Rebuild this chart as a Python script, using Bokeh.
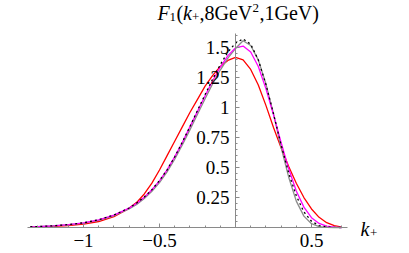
from bokeh.plotting import figure
from bokeh.models import Range1d, FixedTicker, Label
from bokeh.embed import file_html
from bokeh.resources import INLINE

k_plus = [-1.35, -1.3, -1.2, -1.1, -1.0, -0.9, -0.8, -0.7, -0.65, -0.6, -0.55, -0.5,
          -0.45, -0.4, -0.35, -0.3, -0.25, -0.2, -0.15, -0.1, -0.05, 0.0, 0.05, 0.1,
          0.15, 0.2, 0.25, 0.3, 0.35, 0.4, 0.45, 0.5, 0.55, 0.6, 0.65, 0.7]

f_magenta = [0.006, 0.008, 0.014, 0.024, 0.038, 0.064, 0.103, 0.162, 0.203, 0.253, 0.315, 0.39,
             0.482, 0.59, 0.71, 0.84, 0.97, 1.10, 1.225, 1.34, 1.435, 1.50, 1.515, 1.465,
             1.345, 1.16, 0.94, 0.71, 0.49, 0.305, 0.17, 0.082, 0.034, 0.012, 0.003, 0.0]

f_red = [0.004, 0.005, 0.009, 0.016, 0.028, 0.05, 0.09, 0.16, 0.21, 0.28, 0.37, 0.48,
         0.60, 0.72, 0.84, 0.96, 1.07, 1.18, 1.27, 1.345, 1.395, 1.42, 1.40, 1.32,
         1.19, 1.02, 0.835, 0.665, 0.51, 0.37, 0.25, 0.155, 0.085, 0.04, 0.015, 0.004]

f_gray = [0.005, 0.007, 0.013, 0.022, 0.036, 0.06, 0.098, 0.155, 0.193, 0.242, 0.302, 0.375,
          0.465, 0.57, 0.69, 0.815, 0.945, 1.075, 1.20, 1.315, 1.415, 1.495, 1.56, 1.52,
          1.40, 1.20, 0.95, 0.67, 0.42, 0.22, 0.095, 0.032, 0.008, 0.001, 0.0, 0.0]

f_black = [0.006, 0.008, 0.014, 0.024, 0.039, 0.065, 0.104, 0.163, 0.205, 0.255, 0.316, 0.392,
           0.482, 0.59, 0.712, 0.842, 0.977, 1.11, 1.24, 1.36, 1.465, 1.54, 1.575, 1.53,
           1.40, 1.195, 0.95, 0.69, 0.455, 0.265, 0.13, 0.052, 0.016, 0.004, 0.0005, 0.0]

x_ticks = [-1.0, -0.5, 0.5]
x_tick_labels = ["\u22121", "\u22120.5", "0.5"]
y_ticks = [0.25, 0.5, 0.75, 1.0, 1.25, 1.5]
y_tick_labels = ["0.25", "0.5", "0.75", "1", "1.25", "1.5"]
x_axis_bounds = (-1.37, 0.74)
y_axis_bounds = (0.0, 1.62)

FONT = "Liberation Serif"
FS = "19px"
FS_T = "20px"
FS_SMALL = "13px"

W, H = 409, 253
X0_PX, XSCALE = 235, 152.0      # pixel of k_plus = 0, pixels per unit
Y0_PX, YSCALE = 227, 119.75     # pixel of F = 0, pixels per unit


def px_to_x(px):
    return (px - X0_PX) / XSCALE


def px_to_y(py):
    return (Y0_PX - py) / YSCALE


p = figure(width=W, height=H, output_backend="svg", toolbar_location=None,
           x_range=Range1d(px_to_x(0), px_to_x(W)), y_range=Range1d(px_to_y(H), px_to_y(0)),
           min_border_left=0, min_border_right=0, min_border_top=0, min_border_bottom=0)
p.outline_line_color = None
p.grid.visible = False
p.background_fill_color = "white"
p.border_fill_color = "white"

p.line(k_plus, f_red, line_color="#ff0000", line_width=1.3)
p.line(k_plus, f_gray, line_color="#8c8c8c", line_width=1.3)
p.line(k_plus, f_magenta, line_color="#ff00ff", line_width=1.3)
p.line(k_plus, f_black, line_color="black", line_width=1.3, line_dash="2 3")

minor_x = [round(-1.3 + 0.1 * i, 2) for i in range(21)]
minor_y = [round(0.05 * i, 2) for i in range(1, 33)]

for ax, ticks, labels, minor, bounds in ((p.xaxis[0], x_ticks, x_tick_labels, minor_x, x_axis_bounds),
                                         (p.yaxis[0], y_ticks, y_tick_labels, minor_y, y_axis_bounds)):
    ax.fixed_location = 0
    ax.bounds = bounds
    ax.ticker = FixedTicker(ticks=ticks, minor_ticks=minor)
    ax.major_label_overrides = {t: l for t, l in zip(ticks, labels)}
    ax.axis_line_color = "#8a8a8a"
    ax.major_tick_line_color = "#8a8a8a"
    ax.minor_tick_line_color = "#8a8a8a"
    ax.major_tick_in = 4
    ax.major_tick_out = 0
    ax.minor_tick_in = 2
    ax.minor_tick_out = 0
    ax.major_label_text_font = FONT
    ax.major_label_text_font_size = FS
    ax.major_label_text_color = "black"
    ax.major_label_standoff = 6

p.xaxis[0].major_label_orientation = "horizontal"

# title pieces: F_1(k_+,8GeV^2,1GeV)
title_parts = [
    ("F", 157, 12, FS_T, "italic"),
    ("1", 169, 16, FS_SMALL, "normal"),
    ("(", 176, 12, FS_T, "normal"),
    ("k", 182.5, 12, FS_T, "italic"),
    ("+", 191.5, 16, FS_SMALL, "normal"),
    (",8GeV", 199, 12, FS_T, "normal"),
    ("2", 252, 7, FS_SMALL, "normal"),
    (",1GeV)", 259, 12, FS_T, "normal"),
]
for txt, px, py, fs, style in title_parts:
    p.add_layout(Label(x=px_to_x(px), y=px_to_y(py), text=txt, text_font=FONT,
                       text_font_size=fs, text_font_style=style, text_color="black",
                       text_baseline="alphabetic", text_align="left"))

p.add_layout(Label(x=px_to_x(360), y=px_to_y(228), text="k", text_font=FONT,
                   text_font_size=FS_T, text_font_style="italic", text_color="black",
                   text_baseline="alphabetic", text_align="left"))
p.add_layout(Label(x=px_to_x(369.5), y=px_to_y(232), text="+", text_font=FONT,
                   text_font_size=FS_SMALL, text_color="black",
                   text_baseline="alphabetic", text_align="left"))

open("out.html", "w").write(file_html(p, INLINE))
